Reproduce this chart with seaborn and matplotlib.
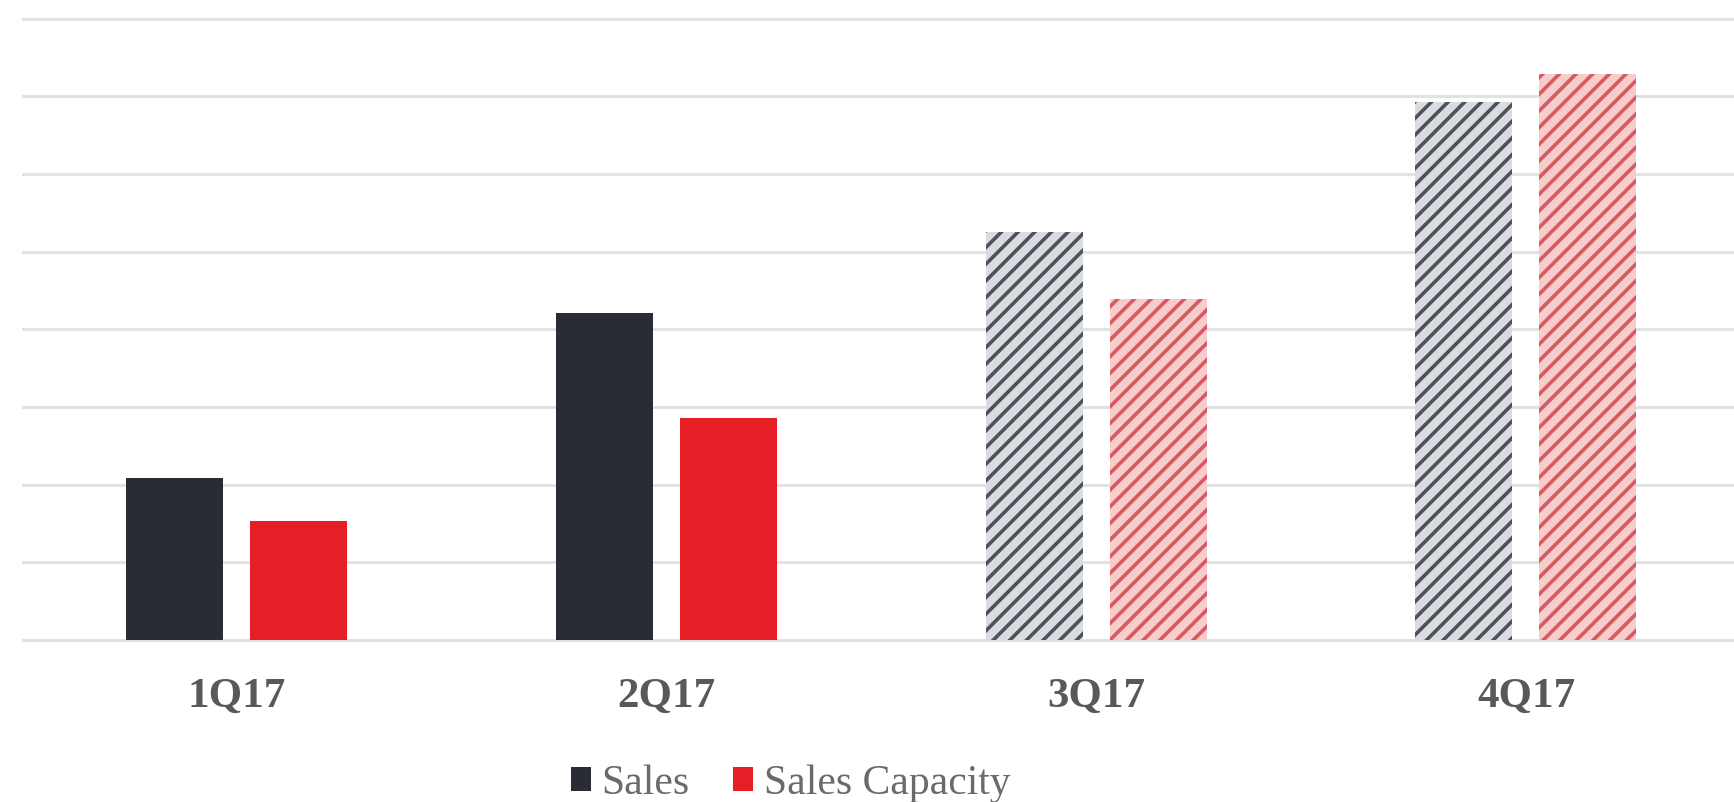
import matplotlib
matplotlib.use("Agg")
import matplotlib.pyplot as plt
from matplotlib.patches import Patch
import pandas as pd
import seaborn as sns

# Quarterly values (in gridline units)
quarters = ["1Q17", "2Q17", "3Q17", "4Q17"]
sales = [2.09, 4.21, 5.25, 6.93]
sales_capacity = [1.53, 2.86, 4.39, 7.29]
series_names = ["Sales", "Sales Capacity"]
# Quarters shown as projections (hatched)
projected = ["3Q17", "4Q17"]

df = pd.DataFrame({
    "quarter": quarters * 2,
    "value": sales + sales_capacity,
    "series": [series_names[0]] * len(quarters) + [series_names[1]] * len(quarters),
})

solid_colors = {"Sales": "#2a2c35", "Sales Capacity": "#e61f26"}
hatch_face = {"Sales": "#d9dce1", "Sales Capacity": "#f7cccc"}
hatch_line = {"Sales": "#4f5258", "Sales Capacity": "#d65a60"}

sns.set_theme(style="white")
plt.rcParams["font.family"] = ["Liberation Serif", "DejaVu Serif"]
plt.rcParams["hatch.linewidth"] = 2.6

W, H = 1734, 802
fig = plt.figure(figsize=(W / 100, H / 100), dpi=100)
fig.patch.set_facecolor("white")

step = 77.65  # pixels per gridline unit
ax_left_px, ax_bottom_px = 22, 650
ax = fig.add_axes([ax_left_px / W, (H - ax_bottom_px) / H,
                   (W - ax_left_px) / W, ax_bottom_px / H])

sns.barplot(data=df, x="quarter", y="value", hue="series", order=quarters,
            hue_order=series_names, palette=solid_colors, saturation=1,
            width=0.577, gap=0.218, linewidth=0, legend=False, ax=ax, zorder=3)

for name, container in zip(series_names, ax.containers):
    for q, bar in zip(quarters, container):
        if q in projected:
            bar.set_facecolor(hatch_face[name])
            bar.set_edgecolor(hatch_line[name])
            bar.set_hatch("//")
            bar.set_linewidth(0)

ax.set_xlim(-0.5, -0.5 + (W - ax_left_px) / 429.7)
ax.set_ylim(-10 / step, 640 / step)
ax.set_yticks(range(0, 9))
ax.set_yticklabels([])
ax.yaxis.grid(True, color="#e2e2e2", linewidth=2.2)
ax.xaxis.grid(False)
ax.set_axisbelow(True)
for s in ax.spines.values():
    s.set_visible(False)
ax.set_xlabel("")
ax.set_ylabel("")
ax.tick_params(axis="x", length=0, pad=20, labelsize=31, labelcolor="#595959")
ax.tick_params(axis="y", length=0)
for lbl in ax.get_xticklabels():
    lbl.set_fontweight("bold")

handles = [Patch(facecolor=solid_colors[n], edgecolor="none", label=n) for n in series_names]
fig.legend(handles=handles, loc="center", bbox_to_anchor=(0.456, 0.023), ncol=2,
           frameon=False, fontsize=30, handlelength=0.48, handleheight=0.48,
           handletextpad=0.25, columnspacing=1.05, labelcolor="#6a6a6a")

fig.savefig("out.png", dpi=100, facecolor="white")
